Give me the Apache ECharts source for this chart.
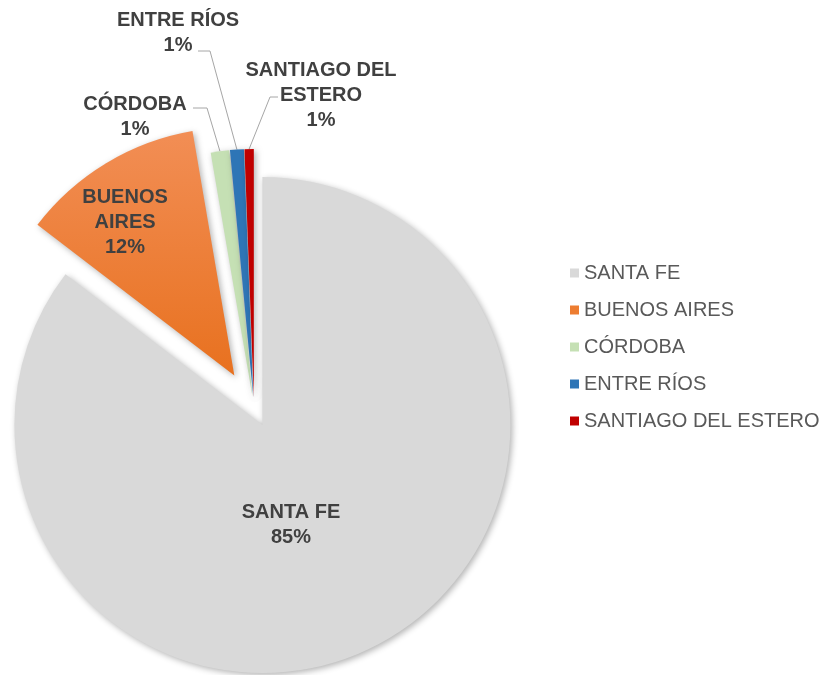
<!DOCTYPE html>
<html>
<head>
<meta charset="utf-8">
<script src="https://cdn.jsdelivr.net/npm/echarts@6/dist/echarts.min.js"></script>
<style>
  html, body { margin: 0; padding: 0; background: #fff; }
  #chart { width: 825px; height: 675px; }
</style>
</head>
<body>
<div id="chart"></div>
<script>
// data
const provinces = ['SANTA FE', 'BUENOS AIRES', 'CÓRDOBA', 'ENTRE RÍOS', 'SANTIAGO DEL ESTERO'];
const labelNames = ['SANTA FE', 'BUENOS\nAIRES', 'CÓRDOBA', 'ENTRE RÍOS', 'SANTIAGO DEL\nESTERO'];
const shares = [85.4, 11.9, 1.2, 0.9, 0.6];

// styling
const colors = [
  '#d9d9d9',
  { type: 'linear', x: 0, y: 0, x2: 0, y2: 1, colorStops: [{ offset: 0, color: '#f28e55' }, { offset: 1, color: '#e8711f' }] },
  '#c5e0b4',
  '#2e75b6',
  '#c00000'
];
const legendColors = ['#d9d9d9', '#ed7d31', '#c5e0b4', '#2e75b6', '#c00000'];
// which slices are pulled out, and how far
const explodeGroups = [
  { items: [0], offset: 19 },
  { items: [1], offset: 38 },
  { items: [2, 3, 4], offset: 11 }
];
// label placement: centre of the text block, plus leader elbow/end for outside labels
const labelSpots = [
  { at: [291, 525] },
  { at: [125, 222] },
  { at: [135, 117], elbow: [207, 108], end: [193, 108] },
  { at: [178, 33], elbow: [210, 51], end: [198, 51] },
  { at: [321, 95], elbow: [270, 97], end: [278, 97] }
];
const labelFont = '"Liberation Sans", Arial, sans-serif';

// how far each slice is pulled out (labels move with their slice)
const total = shares.reduce((a, b) => a + b, 0);
const sliceShift = [];
let acc = 0;
shares.forEach((v, i) => {
  const mid = (acc + v / 2) / total * Math.PI * 2;
  acc += v;
  const off = explodeGroups.find(g => g.items.indexOf(i) >= 0).offset;
  sliceShift.push([off * Math.sin(mid), -off * Math.cos(mid)]);
});

const chart = echarts.init(document.getElementById('chart'));

const series = explodeGroups.map((g) => ({
  type: 'pie',
  center: [254, 408],
  radius: 248,
  startAngle: 90,
  clockwise: true,
  selectedMode: 'multiple',
  selectedOffset: g.offset,
  avoidLabelOverlap: false,
  animation: false,
  emphasis: { disabled: true },
  data: provinces.map((name, i) => {
    const mine = g.items.indexOf(i) >= 0;
    const outside = i >= 2;
    return {
      name: name,
      value: shares[i],
      selected: mine,
      itemStyle: mine
        ? { color: colors[i], shadowBlur: 6, shadowColor: 'rgba(0,0,0,0.3)', shadowOffsetX: 2, shadowOffsetY: 2 }
        : { color: 'rgba(0,0,0,0)', opacity: 0 },
      label: {
        show: mine,
        position: outside ? 'outside' : 'inside',
        formatter: labelNames[i] + '\n' + Math.round(shares[i]) + '%',
        fontFamily: labelFont,
        fontWeight: 'bold',
        fontSize: 20,
        lineHeight: 25,
        color: '#404040',
        overflow: 'none'
      },
      labelLine: {
        show: mine && outside,
        lineStyle: { color: '#a6a6a6', width: 1 }
      }
    };
  }),
  labelLayout: function (p) {
    const spot = labelSpots[p.dataIndex];
    const r = p.labelRect;
    if (!r || !r.width) return {};
    const sh = sliceShift[p.dataIndex];
    const ax = p.align === 'right' ? r.x + r.width : p.align === 'left' ? r.x : r.x + r.width / 2;
    const ay = p.verticalAlign === 'bottom' ? r.y + r.height : p.verticalAlign === 'top' ? r.y : r.y + r.height / 2;
    const out = {
      align: 'center',
      verticalAlign: 'middle',
      dx: spot.at[0] - sh[0] - ax,
      dy: spot.at[1] - sh[1] - ay
    };
    if (spot.elbow && p.labelLinePoints) {
      out.labelLinePoints = [
        p.labelLinePoints[0],
        [spot.elbow[0] - sh[0], spot.elbow[1] - sh[1]],
        [spot.end[0] - sh[0], spot.end[1] - sh[1]]
      ];
    }
    return out;
  }
}));

chart.setOption({
  backgroundColor: '#ffffff',
  legend: {
    orient: 'vertical',
    left: 565,
    top: 258,
    itemWidth: 9,
    itemHeight: 9,
    itemGap: 17,
    icon: 'rect',
    selectedMode: false,
    textStyle: { fontFamily: labelFont, fontSize: 20, lineHeight: 20, color: '#595959' },
    data: provinces.map((name, i) => ({ name: name, itemStyle: { color: legendColors[i], opacity: 1 } }))
  },
  series: series
});
</script>
</body>
</html>
